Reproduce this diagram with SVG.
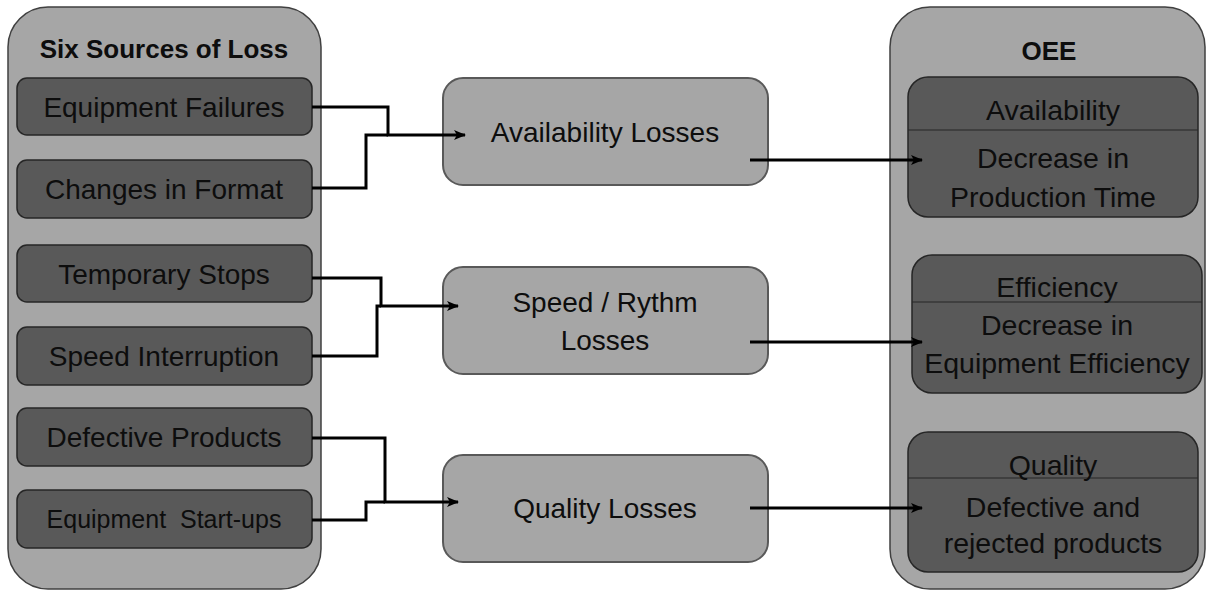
<svg xmlns="http://www.w3.org/2000/svg" width="1210" height="594" viewBox="0 0 1210 594">
<style>
.bg{fill:#fff}
.outer{fill:#a6a6a6;stroke:#404040;stroke-width:1.5}
.src{fill:#595959;stroke:#262626;stroke-width:1.5}
.mid{fill:#a6a6a6;stroke:#595959;stroke-width:2}
.oee{fill:#595959;stroke:#262626;stroke-width:1.5}
.div{stroke:#262626;stroke-width:1.2}
text{font-family:"Liberation Sans",Arial,sans-serif;fill:#0d0d0d;text-anchor:middle}
.t{font-size:28px}
.ts{font-size:25px}
.tb{font-size:26px;font-weight:bold}
.to{font-size:28.5px}
.c{fill:none;stroke:#000;stroke-width:3}
</style>
<defs>
<marker id="ah" markerWidth="12" markerHeight="10" refX="11" refY="5" orient="auto" markerUnits="userSpaceOnUse">
<path d="M0,0 L12,5 L0,10 L3,5 Z" fill="#000"/>
</marker>
</defs>
<rect class="bg" width="1210" height="594"/>

<g id="sources">
<rect class="outer" x="8" y="7" width="313" height="582" rx="40"/>
<text class="tb" x="164" y="58">Six Sources of Loss</text>
</g>
<g id="equipment-failures">
<rect class="src" x="17" y="78" width="295" height="57" rx="10"/>
<text class="t" x="164" y="117">Equipment Failures</text>
</g>
<g id="changes-in-format">
<rect class="src" x="17" y="160" width="295" height="58" rx="10"/>
<text class="t" x="164" y="199">Changes in Format</text>
</g>
<g id="temporary-stops">
<rect class="src" x="17" y="245" width="295" height="57" rx="10"/>
<text class="t" x="164" y="284">Temporary Stops</text>
</g>
<g id="speed-interruption">
<rect class="src" x="17" y="327" width="295" height="58" rx="10"/>
<text class="t" x="164" y="366">Speed Interruption</text>
</g>
<g id="defective-products">
<rect class="src" x="17" y="408" width="295" height="58" rx="10"/>
<text class="t" x="164" y="447">Defective Products</text>
</g>
<g id="equipment-startups">
<rect class="src" x="17" y="490" width="295" height="58" rx="10"/>
<text class="ts" x="164" y="528" xml:space="preserve">Equipment  Start-ups</text>
</g>

<g id="availability-losses">
<rect class="mid" x="443" y="78" width="325" height="107" rx="20"/>
<text class="t" x="605" y="142">Availability Losses</text>
</g>
<g id="speed-losses">
<rect class="mid" x="443" y="267" width="325" height="107" rx="20"/>
<text class="t" x="605" y="312">Speed / Rythm</text>
<text class="t" x="605" y="350">Losses</text>
</g>
<g id="quality-losses">
<rect class="mid" x="443" y="455" width="325" height="107" rx="20"/>
<text class="t" x="605" y="518">Quality Losses</text>
</g>

<g id="oee">
<rect class="outer" x="890" y="7" width="315" height="582" rx="40"/>
<text class="tb" x="1049" y="60">OEE</text>
</g>
<g id="oee-availability">
<rect class="oee" x="908" y="77" width="290" height="140" rx="20"/>
<line class="div" x1="908" y1="130" x2="1198" y2="130"/>
<text class="to" x="1053" y="120">Availability</text>
<text class="to" x="1053" y="168">Decrease in</text>
<text class="to" x="1053" y="207">Production Time</text>
</g>
<g id="oee-efficiency">
<rect class="oee" x="912" y="255" width="290" height="138" rx="20"/>
<line class="div" x1="912" y1="302" x2="1202" y2="302"/>
<text class="to" x="1057" y="297">Efficiency</text>
<text class="to" x="1057" y="335">Decrease in</text>
<text class="to" x="1057" y="373">Equipment Efficiency</text>
</g>
<g id="oee-quality">
<rect class="oee" x="908" y="432" width="290" height="140" rx="20"/>
<line class="div" x1="908" y1="478" x2="1198" y2="478"/>
<text class="to" x="1053" y="475">Quality</text>
<text class="to" x="1053" y="517">Defective and</text>
<text class="to" x="1053" y="553">rejected products</text>
</g>

<g id="connectors">
<path class="c" d="M312,107 H388 V135 H465" marker-end="url(#ah)"/>
<path class="c" d="M312,188 H366 V135 H388"/>
<path class="c" d="M312,278 H381 V306 H458" marker-end="url(#ah)"/>
<path class="c" d="M312,356 H377 V306 H381"/>
<path class="c" d="M312,438 H385 V502 H458" marker-end="url(#ah)"/>
<path class="c" d="M312,520 H366 V502 H385"/>
<path class="c" d="M750,160 H922" marker-end="url(#ah)"/>
<path class="c" d="M750,342 H922" marker-end="url(#ah)"/>
<path class="c" d="M750,508 H922" marker-end="url(#ah)"/>
</g>
</svg>
